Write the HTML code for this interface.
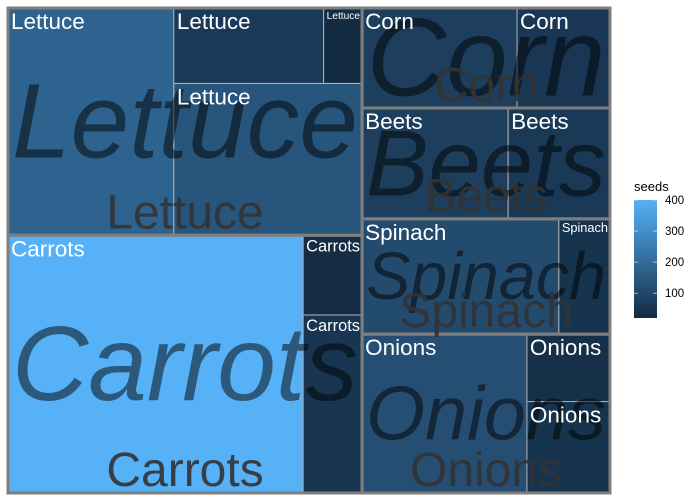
<!DOCTYPE html>
<html><head><meta charset="utf-8">
<style>
html,body{margin:0;padding:0;background:#fff;}
svg{display:block;font-family:"Liberation Sans",sans-serif;}
</style></head>
<body>
<svg id="chart" width="700" height="500" viewBox="0 0 700 500">
  <rect x="0" y="0" width="700" height="500" fill="#fff"/>
  <g id="tiles"></g>
  <g id="borders"></g>
  <g id="labels"></g>
  <g id="legend">
    <defs>
      <linearGradient id="lg" x1="0" y1="1" x2="0" y2="0">
        <stop offset="0" stop-color="#132B43"/>
        <stop offset="1" stop-color="#56B1F7"/>
      </linearGradient>
    </defs>
    <text x="634" y="191" font-size="13" fill="#000">seeds</text>
  </g>
</svg>
<script>
// ---- data ----
const groupNames = ["Carrots","Lettuce","Onions","Spinach","Beets","Corn"];
const tileAreas = [
  [761,105,47],
  [377,286,113,29],
  [262,76,56],
  [227,59],
  [162,113],
  [155,93]
];
const tileSeeds = [
  [400,50,25],
  [180,140,60,20],
  [120,45,35],
  [110,45],
  [75,60],
  [75,55]
];
const legendTicks = [100,200,300,400];

// ---- scales ----
const PX0=8, PX1=610, PY0=8, PY1=493;
const sx = u => PX0 + u*(PX1-PX0);
const sy = u => PY1 - u*(PY1-PY0);
const allSeeds = tileSeeds.flat();
const sMin = Math.min(...allSeeds), sMax = Math.max(...allSeeds);
function colorOf(v){
  const t=(v-sMin)/(sMax-sMin);
  const a=[0x13,0x2B,0x43], b=[0x56,0xB1,0xF7];
  const c=a.map((x,i)=>Math.round(x+(b[i]-x)*t));
  return `rgb(${c[0]},${c[1]},${c[2]})`;
}

function worst(row, side){
  const s = row.reduce((a,b)=>a+b,0);
  const thick = s/side;
  let w=0;
  row.forEach(a=>{const len=a/thick; w=Math.max(w, len/thick, thick/len);});
  return w;
}
function squarify(areas, rect){
  const out=[]; let r={...rect}; let i=0;
  while(i<areas.length){
    const vertical = r.w >= r.h;
    const side = vertical ? r.h : r.w;
    let row=[areas[i]]; let j=i+1;
    while(j<areas.length){
      const nr=row.concat([areas[j]]);
      if(worst(nr,side)<=worst(row,side)){row=nr;j++;} else break;
    }
    const s=row.reduce((a,b)=>a+b,0); const thick=s/side;
    let off=0;
    row.forEach(a=>{
      const len=a/thick;
      if(vertical) out.push({x:r.x,y:r.y+off,w:thick,h:len});
      else out.push({x:r.x+off,y:r.y,w:len,h:thick});
      off+=len;
    });
    if(vertical){r.x+=thick;r.w-=thick;} else {r.y+=thick;r.h-=thick;}
    i=j;
  }
  return out;
}

const NS="http://www.w3.org/2000/svg";
const tilesG=document.getElementById('tiles');
const bordG=document.getElementById('borders');
const labG=document.getElementById('labels');
function mk(tag,attrs,parent){const e=document.createElementNS(NS,tag);for(const k in attrs)e.setAttribute(k,attrs[k]);parent.appendChild(e);return e;}

const totals = tileAreas.map(a=>a.reduce((x,y)=>x+y,0));
const grand = totals.reduce((a,b)=>a+b,0);
const order = groupNames.map((_,i)=>i).sort((a,b)=>totals[b]-totals[a]);
const gRects = squarify(order.map(i=>totals[i]/grand), {x:0,y:0,w:1,h:1});

const bigLabels=[], smallLabels=[];
order.forEach((gi,k)=>{
  const gr=gRects[k];
  const tOrder=tileAreas[gi].map((_,i)=>i).sort((a,b)=>tileAreas[gi][b]-tileAreas[gi][a]);
  const tRects=squarify(tOrder.map(i=>tileAreas[gi][i]/grand), {x:gr.x,y:gr.y,w:gr.w,h:gr.h});
  tOrder.forEach((ti,m)=>{
    const t=tRects[m];
    const x=sx(t.x), y=sy(t.y+t.h), w=sx(t.x+t.w)-x, h=sy(t.y)-y;
    const rc=mk('rect',{x,y,width:w,height:h,fill:colorOf(tileSeeds[gi][ti]),stroke:'#b0b0b0','stroke-width':1},tilesG);
    
    
    smallLabels.push({x,y,w,h,name:groupNames[gi]});
  });
  const x=sx(gr.x), y=sy(gr.y+gr.h), w=sx(gr.x+gr.w)-x, h=sy(gr.y)-y;
  const br=mk('rect',{x,y,width:w,height:h,fill:'none',stroke:'#7f7f7f','stroke-width':3},bordG);
  
  
  bigLabels.push({x,y,w,h,name:groupNames[gi]});
});

bigLabels.forEach(g=>{
  const t=mk('text',{x:0,y:0,'font-size':100,'font-style':'italic',fill:'#000','fill-opacity':0.5},labG);
  t.textContent=g.name;
  
  
  const bb=t.getBBox();
  const pad=4;
  const s=Math.min((g.w-2*pad)/bb.width,(g.h-2*pad)/bb.height*1.34);
  const tx=g.x+g.w/2-(bb.x+bb.width/2)*s, ty=g.y+g.h/2-(bb.y+bb.height/2)*s;
  t.setAttribute('transform',`translate(${tx},${ty}) scale(${s})`);
});
bigLabels.forEach(g=>{
  const t=mk('text',{x:g.x+g.w/2,y:g.y+g.h-7,'font-size':48,'text-anchor':'middle',fill:'#333','fill-opacity':0.9},labG);
  t.textContent=g.name;
  
  
});
smallLabels.forEach(s=>{
  const FS=22.5;
  const t=mk('text',{x:s.x+3,y:s.y+3+FS*0.8,'font-size':FS,fill:'#fff'},labG);
  t.textContent=s.name;
  
  
  const bw=t.getComputedTextLength();
  const avail=s.w-5;
  if(bw>avail){
    const fs=FS*avail/bw;
    t.setAttribute('font-size',fs);
    t.setAttribute('y',s.y+3+fs*0.8);
  }
});

const leg=document.getElementById('legend');
const LX=634, LW=23, LTop=200, LBot=318;
const ly=v=>LBot-(v-sMin)/(sMax-sMin)*(LBot-LTop);
const bar=mk('rect',{x:LX,y:LTop,width:LW,height:LBot-LTop,fill:'url(#lg)'},leg);


legendTicks.forEach(v=>{
  const y=ly(v);
  mk('line',{x1:LX,x2:LX+4,y1:y,y2:y,stroke:'#fff','stroke-width':0.6},leg);
  mk('line',{x1:LX+LW-4,x2:LX+LW,y1:y,y2:y,stroke:'#fff','stroke-width':0.6},leg);
  const t=mk('text',{x:665,y:y+4,'font-size':11.5,fill:'#000'},leg);
  t.textContent=v;
  
  
});
</script>
</body></html>
